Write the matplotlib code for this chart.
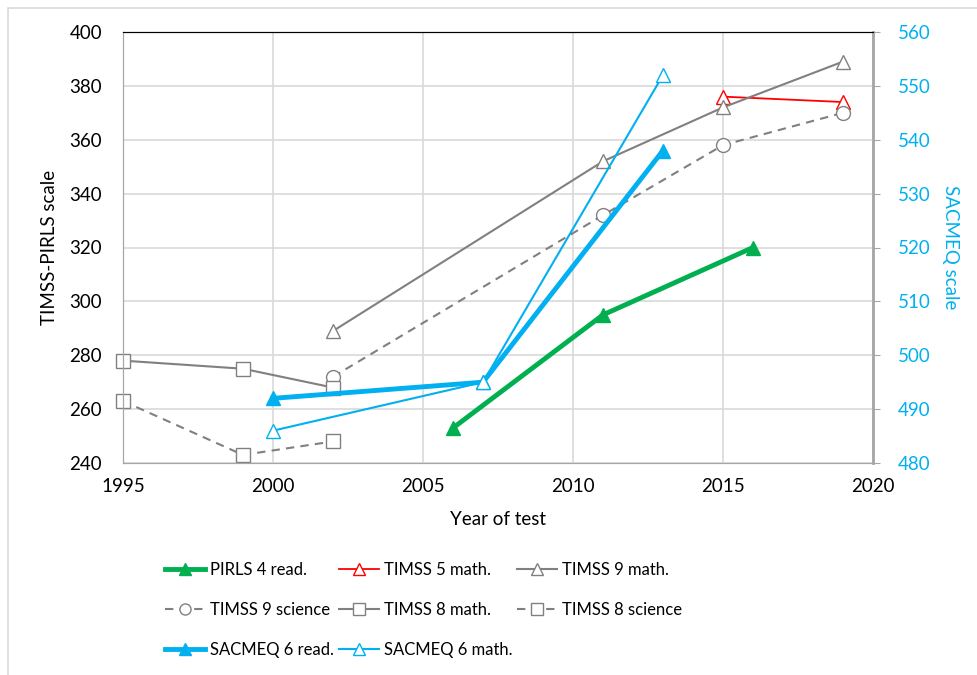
import matplotlib.pyplot as plt
from matplotlib.patches import Rectangle

plt.rcParams['font.family'] = ['Lato', 'DejaVu Sans']

# left axis series (TIMSS-PIRLS scale)
pirls_yr = [2006, 2011, 2016]
pirls4_read = [253, 295, 320]
t5_yr = [2015, 2019]
timss5_math = [376, 374]
t9_yr = [2002, 2011, 2015, 2019]
timss9_math = [289, 352, 372, 389]
timss9_sci = [272, 332, 358, 370]
t8_yr = [1995, 1999, 2002]
timss8_math = [278, 275, 268]
timss8_sci = [263, 243, 248]
# right axis series (SACMEQ scale)
sac_yr = [2000, 2007, 2013]
sacmeq6_read = [492, 495, 538]
sacmeq6_math = [486, 495, 552]

GREEN = '#00b050'
BLUE = '#00b0f0'
GRAY = '#808080'
RED = '#ff0000'
FS = 13.5

fig = plt.figure(figsize=(9.77, 6.75), dpi=100)
ax = fig.add_axes([123/977, 1-463/675, 750/977, 431/675])
ax2 = ax.twinx()

fig.patches.append(Rectangle((8/977, -0.01), 1.0, 1-8/675+0.01, transform=fig.transFigure,
                             fill=False, edgecolor='#d9d9d9', lw=1.2))

ms = 10
h = {}
h['pirls'], = ax.plot(pirls_yr, pirls4_read, color=GREEN, lw=3.5, marker='^', ms=ms,
                      mfc=GREEN, mec=GREEN, label='PIRLS 4 read.')
h['t5'], = ax.plot(t5_yr, timss5_math, color=RED, lw=1.3, marker='^', ms=ms,
                   mfc='white', mec=RED, label='TIMSS 5 math.')
h['t9m'], = ax.plot(t9_yr, timss9_math, color=GRAY, lw=1.5, marker='^', ms=ms,
                    mfc='white', mec=GRAY, label='TIMSS 9 math.')
h['t9s'], = ax.plot(t9_yr, timss9_sci, color=GRAY, lw=1.5, ls=(0, (4, 3)), marker='o', ms=ms,
                    mfc='white', mec=GRAY, label='TIMSS 9 science')
h['t8m'], = ax.plot(t8_yr, timss8_math, color=GRAY, lw=1.5, marker='s', ms=ms,
                    mfc='white', mec=GRAY, label='TIMSS 8 math.', clip_on=False)
h['t8s'], = ax.plot(t8_yr, timss8_sci, color=GRAY, lw=1.5, ls=(0, (4, 3)), marker='s', ms=ms,
                    mfc='white', mec=GRAY, label='TIMSS 8 science', clip_on=False)
h['sr'], = ax2.plot(sac_yr, sacmeq6_read, color=BLUE, lw=3.5, marker='^', ms=ms,
                    mfc=BLUE, mec=BLUE, label='SACMEQ 6 read.')
h['sm'], = ax2.plot(sac_yr, sacmeq6_math, color=BLUE, lw=1.5, marker='^', ms=ms,
                    mfc='white', mec=BLUE, label='SACMEQ 6 math.')

ax.set_xlim(1995, 2020)
ax.set_ylim(240, 400)
ax2.set_ylim(480, 560)
ax.set_xticks(range(1995, 2021, 5))
ax.set_yticks(range(240, 401, 20))
ax2.set_yticks(range(480, 561, 10))
ax.grid(True, color='#d9d9d9', lw=1.2)
ax.set_axisbelow(True)

for s in ['left', 'bottom', 'right']:
    ax.spines[s].set_color('#a6a6a6')
    ax2.spines[s].set_color('#a6a6a6')
ax.spines['top'].set_color('black')
ax2.spines['top'].set_color('black')
ax2.spines['right'].set_linewidth(2)
ax.tick_params(axis='y', length=0, labelsize=FS, pad=15, colors='black')
ax.tick_params(axis='x', length=0, labelsize=FS, pad=11, colors='black')
ax2.tick_params(axis='y', length=5, color='#a6a6a6', labelsize=FS, labelcolor=BLUE, pad=13)

ax.set_xlabel('Year of test', fontsize=FS, labelpad=11)
ax.set_ylabel('TIMSS-PIRLS scale', fontsize=FS, labelpad=8)
ax2.set_ylabel('SACMEQ scale', fontsize=FS, color=BLUE, rotation=270, labelpad=20)

order = ['pirls', 't9s', 'sr', 't5', 't8m', 'sm', 't9m', 't8s']
fig.legend([h[k] for k in order], [h[k].get_label() for k in order], ncol=3,
           loc='upper left', bbox_to_anchor=(165/977, 1-562/675), frameon=False,
           fontsize=12, handlelength=2.4, columnspacing=0.3, labelspacing=1.45,
           handletextpad=0.3, markerscale=0.8, borderpad=0, borderaxespad=0)

fig.savefig('out.png', dpi=100)
